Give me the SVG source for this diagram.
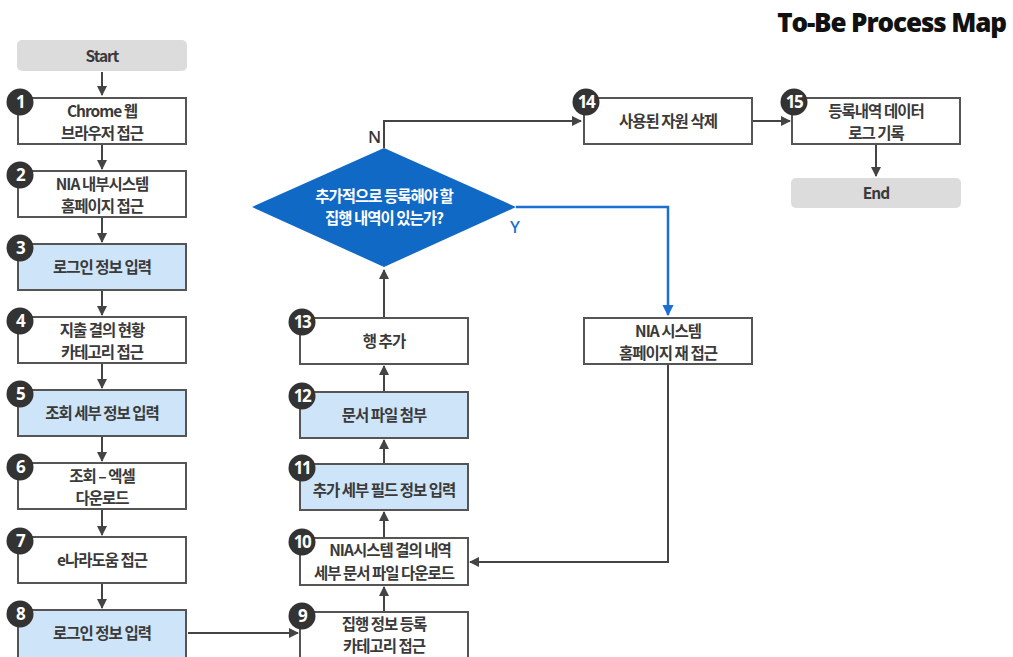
<svg xmlns="http://www.w3.org/2000/svg" width="1013" height="657" viewBox="0 0 1013 657">
<defs>
<style>
.box{fill:#fff;stroke:#555;stroke-width:2}
.hl{fill:#cde4f9;stroke:#555;stroke-width:2}
.term{fill:#dcdcdc;stroke:none}
.t{font-family:"Noto Sans CJK KR","Noto Sans",sans-serif;font-size:15.5px;font-weight:700;fill:#3a3a3a;text-anchor:middle;letter-spacing:-1px}
.num{font-family:"Noto Sans","Noto Sans CJK KR",sans-serif;font-size:17px;font-weight:700;fill:#fff;text-anchor:middle;letter-spacing:-1.5px}
.badge{fill:#333}
.c{fill:none;stroke:#444;stroke-width:2}
.cb{fill:none;stroke:#1a6fd0;stroke-width:2.5}
</style>
<marker id="a" viewBox="0 0 10 10" refX="9" refY="5" markerWidth="5" markerHeight="5" orient="auto"><path d="M0,0 L10,5 L0,10 z" fill="#444"/></marker>
<marker id="ab" viewBox="0 0 10 10" refX="9" refY="5" markerWidth="4.5" markerHeight="4.5" orient="auto"><path d="M0,0 L10,5 L0,10 z" fill="#1a6fd0"/></marker>
</defs>
<rect width="1013" height="657" fill="#fff"/>
<text x="1006" y="32" style="font-family:'Open Sans','Noto Sans',sans-serif;font-size:26px;font-weight:800;fill:#111;text-anchor:end;letter-spacing:-1.1px">To-Be Process Map</text>

<g id="connectors">
<path class="c" d="M102 72 V95" marker-end="url(#a)"/>
<path class="c" d="M102 144 V169" marker-end="url(#a)"/>
<path class="c" d="M102 218 V242" marker-end="url(#a)"/>
<path class="c" d="M102 291 V315" marker-end="url(#a)"/>
<path class="c" d="M102 364 V388" marker-end="url(#a)"/>
<path class="c" d="M102 437 V461" marker-end="url(#a)"/>
<path class="c" d="M102 510 V535" marker-end="url(#a)"/>
<path class="c" d="M102 584 V608" marker-end="url(#a)"/>
<path class="c" d="M188 633 H298" marker-end="url(#a)"/>
<path class="c" d="M384 611 V587" marker-end="url(#a)"/>
<path class="c" d="M384 538 V512" marker-end="url(#a)"/>
<path class="c" d="M384 464 V440" marker-end="url(#a)"/>
<path class="c" d="M384 391 V366" marker-end="url(#a)"/>
<path class="c" d="M384 317 V270" marker-end="url(#a)"/>
<path class="c" d="M384 148 V121 H581" marker-end="url(#a)"/>
<path class="cb" d="M516 207 H668 V315" marker-end="url(#ab)"/>
<path class="c" d="M668 365 V562 H470" marker-end="url(#a)"/>
<path class="c" d="M753 121 H790" marker-end="url(#a)"/>
<path class="c" d="M876 145 V176" marker-end="url(#a)"/>
<text x="368" y="143" style="font-family:'Noto Sans',sans-serif;font-size:17px;font-weight:500;fill:#333">N</text>
<text x="510" y="233" style="font-family:'Noto Sans',sans-serif;font-size:17px;font-weight:500;fill:#1a6fd0">Y</text>
</g>

<g id="start"><rect class="term" x="17" y="40" width="170" height="31" rx="5"/><text class="t" x="102" y="62">Start</text></g>

<g id="n1"><rect class="box" x="18" y="98" width="168" height="46"/><circle class="badge" cx="20" cy="102" r="13.5"/><text class="num" x="20" y="108">1</text><text class="t" x="102" y="117">Chrome 웹</text><text class="t" x="102" y="139">브라우저 접근</text></g>
<g id="n2"><rect class="box" x="18" y="171" width="168" height="46"/><circle class="badge" cx="20" cy="175" r="13.5"/><text class="num" x="20" y="181">2</text><text class="t" x="102" y="190">NIA 내부시스템</text><text class="t" x="102" y="212">홈페이지 접근</text></g>
<g id="n3"><rect class="hl" x="18" y="244" width="168" height="46"/><circle class="badge" cx="20" cy="248" r="13.5"/><text class="num" x="20" y="254">3</text><text class="t" x="102" y="273">로그인 정보 입력</text></g>
<g id="n4"><rect class="box" x="18" y="317" width="168" height="46"/><circle class="badge" cx="20" cy="321" r="13.5"/><text class="num" x="20" y="327">4</text><text class="t" x="102" y="336">지출 결의 현황</text><text class="t" x="102" y="358">카테고리 접근</text></g>
<g id="n5"><rect class="hl" x="18" y="390" width="168" height="46"/><circle class="badge" cx="20" cy="394" r="13.5"/><text class="num" x="20" y="400">5</text><text class="t" x="102" y="419">조회 세부 정보 입력</text></g>
<g id="n6"><rect class="box" x="18" y="463" width="168" height="46"/><circle class="badge" cx="20" cy="467" r="13.5"/><text class="num" x="20" y="473">6</text><text class="t" x="102" y="482">조회 – 엑셀</text><text class="t" x="102" y="504">다운로드</text></g>
<g id="n7"><rect class="box" x="18" y="537" width="168" height="46"/><circle class="badge" cx="20" cy="541" r="13.5"/><text class="num" x="20" y="547">7</text><text class="t" x="102" y="566">e나라도움 접근</text></g>
<g id="n8"><rect class="hl" x="18" y="610" width="168" height="48"/><circle class="badge" cx="20" cy="614" r="13.5"/><text class="num" x="20" y="620">8</text><text class="t" x="102" y="639">로그인 정보 입력</text></g>

<g id="n9"><rect class="box" x="300" y="612" width="168" height="48"/><circle class="badge" cx="302" cy="616" r="13.5"/><text class="num" x="302" y="622">9</text><text class="t" x="384" y="630">집행 정보 등록</text><text class="t" x="384" y="652">카테고리 접근</text></g>
<g id="n10"><rect class="box" x="300" y="538" width="168" height="47"/><circle class="badge" cx="302" cy="542" r="13.5"/><text class="num" x="302" y="548">10</text><text class="t" x="390" y="556">NIA시스템 결의 내역</text><text class="t" x="384" y="579">세부 문서 파일 다운로드</text></g>
<g id="n11"><rect class="hl" x="300" y="464" width="168" height="46"/><circle class="badge" cx="302" cy="468" r="13.5"/><text class="num" x="302" y="474">11</text><text class="t" x="384" y="496">추가 세부 필드 정보 입력</text></g>
<g id="n12"><rect class="hl" x="300" y="392" width="168" height="46"/><circle class="badge" cx="302" cy="396" r="13.5"/><text class="num" x="302" y="402">12</text><text class="t" x="384" y="421">문서 파일 첨부</text></g>
<g id="n13"><rect class="box" x="300" y="318" width="168" height="46"/><circle class="badge" cx="302" cy="322" r="13.5"/><text class="num" x="302" y="328">13</text><text class="t" x="384" y="347">행 추가</text></g>

<g id="decision"><polygon points="384,148 516,207 384,267 252,207" fill="#1169c6"/><text class="t" x="384" y="202" style="fill:#fff">추가적으로 등록해야 할</text><text class="t" x="384" y="224" style="fill:#fff">집행 내역이 있는가?</text></g>

<g id="n14"><rect class="box" x="584" y="98" width="168" height="46"/><circle class="badge" cx="586" cy="102" r="13.5"/><text class="num" x="586" y="108">14</text><text class="t" x="668" y="127">사용된 자원 삭제</text></g>
<g id="n15"><rect class="box" x="792" y="98" width="168" height="46"/><circle class="badge" cx="794" cy="102" r="13.5"/><text class="num" x="794" y="108">15</text><text class="t" x="876" y="117">등록내역 데이터</text><text class="t" x="876" y="139">로그 기록</text></g>
<g id="end"><rect class="term" x="791" y="178" width="170" height="30" rx="5"/><text class="t" x="876" y="199">End</text></g>
<g id="nre"><rect class="box" x="584" y="318" width="168" height="46"/><text class="t" x="668" y="337">NIA 시스템</text><text class="t" x="668" y="359">홈페이지 재 접근</text></g>
</svg>
